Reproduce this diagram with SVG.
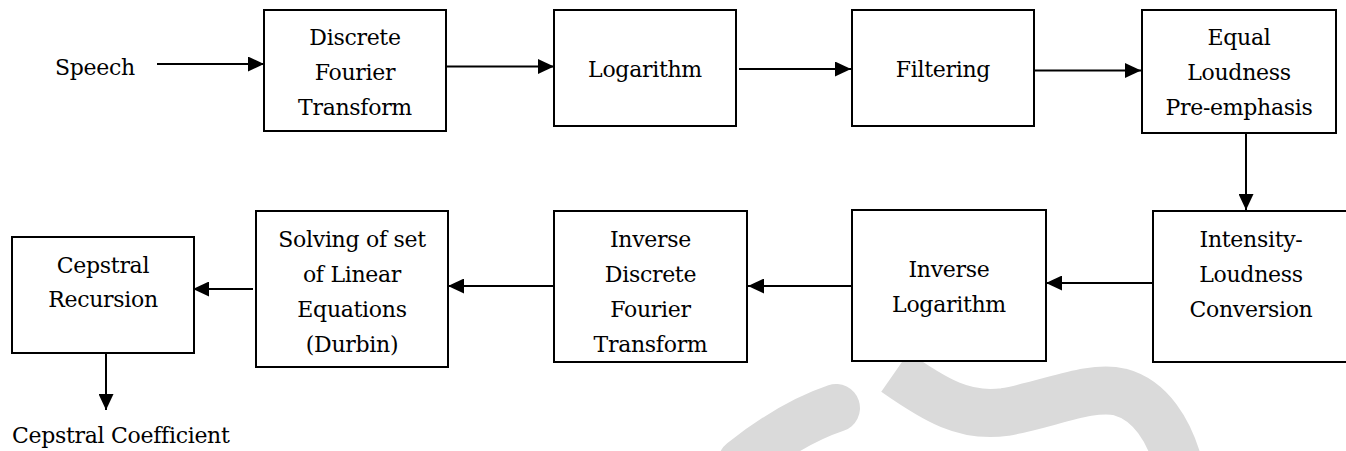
<svg xmlns="http://www.w3.org/2000/svg" width="1346" height="451" viewBox="0 0 1346 451">
  <style>
    .box { fill: #ffffff; stroke: #000000; stroke-width: 2; }
    text { font-family: 'DejaVu Serif', 'Liberation Serif', serif; font-size: 22px; letter-spacing: -0.3px; fill: #000000; }
    .lbl { text-anchor: middle; }
    .wire { fill: none; stroke: #000000; stroke-width: 2; marker-end: url(#head); }
    .mark { fill: none; stroke: #dadada; stroke-width: 48; }
  </style>
  <defs>
    <marker id="head" markerUnits="userSpaceOnUse" markerWidth="16" markerHeight="15" refX="16" refY="7.5" orient="auto">
      <path d="M0,0 L16,7.5 L0,15 Z" fill="#000000"/>
    </marker>
  </defs>

  <rect width="1346" height="451" fill="#ffffff"/>

  <!-- background swoosh -->
  <g id="swoosh">
    <path class="mark" d="M742,462 C770,440 800,420 836,408" stroke-linecap="round"/>
    <path class="mark" d="M895,372 C935,400 965,418 1005,412 C1050,404 1090,385 1120,392 C1150,400 1170,430 1180,470"/>
  </g>

  <!-- connectors -->
  <g id="connectors">
    <path class="wire" d="M157,64 H264"/>
    <path class="wire" d="M446,66.5 H554"/>
    <path class="wire" d="M739,69 H851"/>
    <path class="wire" d="M1035,70.5 H1141"/>
    <path class="wire" d="M1246,133 V210"/>
    <path class="wire" d="M1153,283 H1046"/>
    <path class="wire" d="M855,286 H748"/>
    <path class="wire" d="M554,286 H448"/>
    <path class="wire" d="M253,289 H193"/>
    <path class="wire" d="M106,353 V410"/>
  </g>

  <g id="speech">
    <text x="55" y="75">Speech</text>
  </g>

  <g id="dft">
    <rect class="box" x="264" y="10" width="182" height="121"/>
    <text class="lbl" x="355" y="45">Discrete</text>
    <text class="lbl" x="355" y="80">Fourier</text>
    <text class="lbl" x="355" y="115">Transform</text>
  </g>

  <g id="logarithm">
    <rect class="box" x="554" y="10" width="182" height="116"/>
    <text class="lbl" x="645" y="77">Logarithm</text>
  </g>

  <g id="filtering">
    <rect class="box" x="852" y="10" width="182" height="116"/>
    <text class="lbl" x="943" y="77">Filtering</text>
  </g>

  <g id="equal-loudness">
    <rect class="box" x="1142" y="10" width="194" height="123"/>
    <text class="lbl" x="1239" y="45">Equal</text>
    <text class="lbl" x="1239" y="80">Loudness</text>
    <text class="lbl" x="1239" y="115">Pre-emphasis</text>
  </g>

  <g id="intensity-loudness">
    <rect class="box" x="1153" y="211" width="205" height="151"/>
    <text class="lbl" x="1251" y="247">Intensity-</text>
    <text class="lbl" x="1251" y="282">Loudness</text>
    <text class="lbl" x="1251" y="317">Conversion</text>
  </g>

  <g id="inverse-log">
    <rect class="box" x="852" y="210" width="194" height="151"/>
    <text class="lbl" x="949" y="277">Inverse</text>
    <text class="lbl" x="949" y="312">Logarithm</text>
  </g>

  <g id="idft">
    <rect class="box" x="554" y="211" width="193" height="151"/>
    <text class="lbl" x="650.5" y="247">Inverse</text>
    <text class="lbl" x="650.5" y="282">Discrete</text>
    <text class="lbl" x="650.5" y="317">Fourier</text>
    <text class="lbl" x="650.5" y="352">Transform</text>
  </g>

  <g id="durbin">
    <rect class="box" x="256" y="211" width="192" height="156"/>
    <text class="lbl" x="352" y="247">Solving of set</text>
    <text class="lbl" x="352" y="282">of Linear</text>
    <text class="lbl" x="352" y="317">Equations</text>
    <text class="lbl" x="352" y="352">(Durbin)</text>
  </g>

  <g id="cepstral-recursion">
    <rect class="box" x="12" y="237" width="182" height="116"/>
    <text class="lbl" x="103" y="273">Cepstral</text>
    <text class="lbl" x="103" y="307">Recursion</text>
  </g>

  <g id="output">
    <text x="12" y="443">Cepstral Coefficient</text>
  </g>
</svg>
